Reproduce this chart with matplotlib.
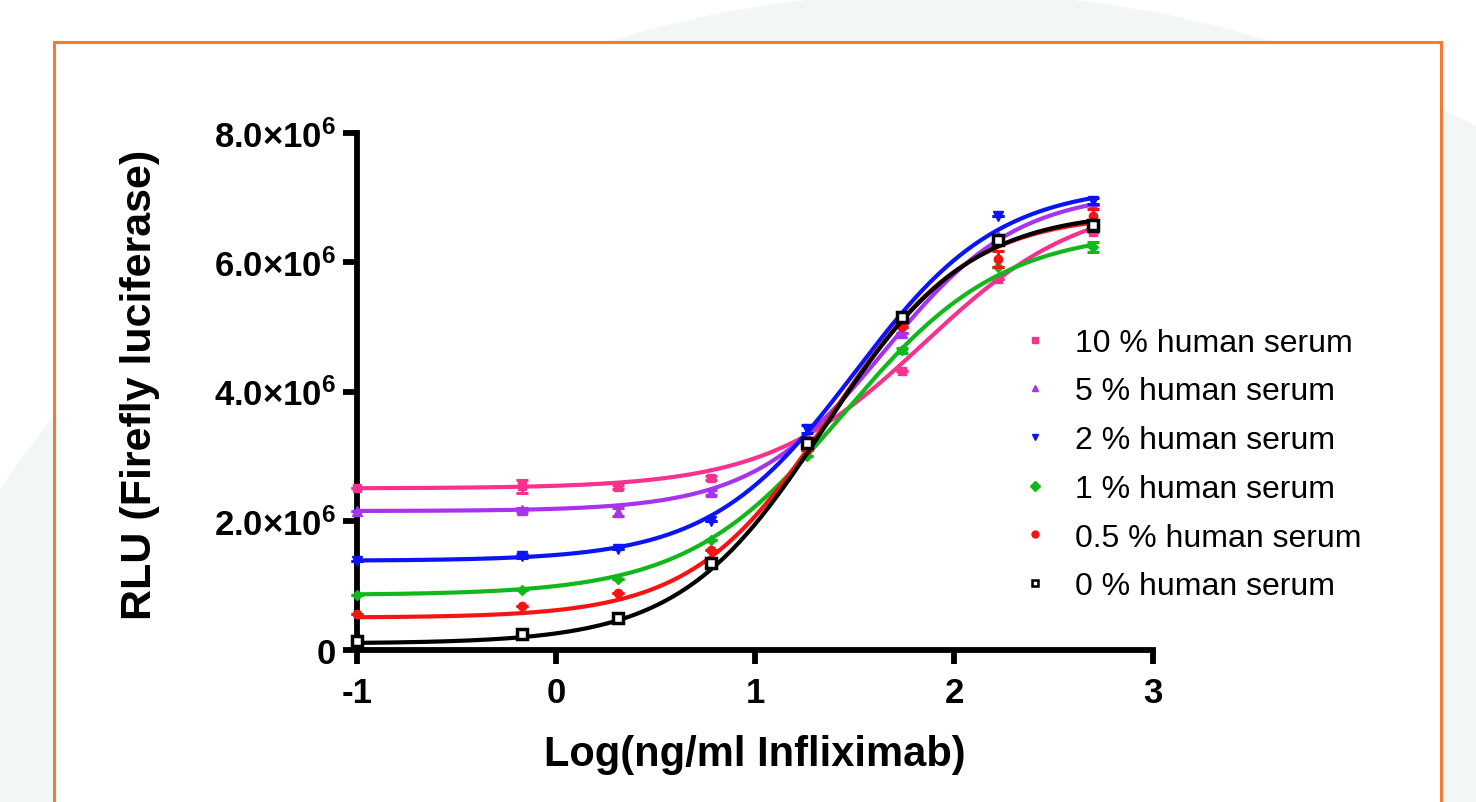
import numpy as np
import matplotlib
matplotlib.use("Agg")
import matplotlib.pyplot as plt
from matplotlib.patches import Circle, Rectangle

plt.rcParams['font.family'] = ['Liberation Sans', 'DejaVu Sans']
plt.rcParams['mathtext.fontset'] = 'custom'
plt.rcParams['mathtext.rm'] = 'Liberation Sans'
plt.rcParams['mathtext.bf'] = 'Liberation Sans:bold'

# ---------------- data ----------------
x_log = [-1.0, -0.17, 0.31, 0.78, 1.26, 1.74, 2.22, 2.70]
labels = ["10 % human serum", "5 % human serum", "2 % human serum",
          "1 % human serum", "0.5 % human serum", "0 % human serum"]
# RLU values (x 1e6)
y_10 = [2.50, 2.53, 2.52, 2.66, 3.25, 4.32, 5.74, 6.47]
y_5 = [2.15, 2.17, 2.13, 2.44, 3.22, 4.90, 6.40, 6.88]
y_2 = [1.38, 1.45, 1.56, 2.00, 3.42, 5.10, 6.72, 6.95]
y_1 = [0.85, 0.93, 1.10, 1.70, 3.00, 4.64, 5.92, 6.24]
y_05 = [0.55, 0.68, 0.88, 1.55, 3.10, 5.00, 6.05, 6.72]
y_0 = [0.14, 0.25, 0.50, 1.35, 3.20, 5.15, 6.35, 6.57]
# error bars (x 1e6)
e_10 = [0, 0.10, 0.03, 0.03, 0, 0, 0, 0]
e_5 = [0, 0.03, 0.06, 0.04, 0, 0, 0, 0]
e_2 = [0, 0.03, 0, 0, 0.06, 0, 0, 0.05]
e_1 = [0, 0, 0, 0, 0, 0.04, 0, 0.08]
e_05 = [0, 0, 0, 0, 0, 0, 0.13, 0.10]
e_0 = [0.03, 0, 0, 0, 0, 0, 0, 0.08]
# 4-parameter logistic fit parameters (x 1e6 for bottom/top)
fit_bottom = [2.50, 2.15, 1.38, 0.85, 0.50, 0.10]
fit_top = [7.00, 7.10, 7.20, 6.50, 6.75, 6.80]
fit_logec50 = [1.85, 1.65, 1.50, 1.45, 1.38, 1.35]
fit_hill = [1.10, 1.30, 1.20, 1.10, 1.25, 1.20]

series_y = [y_10, y_5, y_2, y_1, y_05, y_0]
series_e = [e_10, e_5, e_2, e_1, e_05, e_0]
colors = ["#f5338f", "#a733ee", "#0a14f5", "#11b81b", "#f51414", "#000000"]
markers = ["s", "^", "v", "D", "o", "s"]
msizes = [6, 7, 7, 5.5, 6, 7.5]

W, H = 1476, 803
fig = plt.figure(figsize=(W / 100, H / 100), dpi=100)
fig.patch.set_facecolor("white")

def px(x, y):
    return (x / 100.0, (H - y) / 100.0)

# background decoration
fig.add_artist(Circle(px(940, 1130), 1137 / 100.0, transform=fig.dpi_scale_trans,
                      facecolor="#f2f6f5", edgecolor="none", zorder=0))
fig.add_artist(Rectangle(px(54, 850), (1441 - 54) / 100.0, (850 - 43) / 100.0,
                         transform=fig.dpi_scale_trans, facecolor="white",
                         edgecolor="#f47b2f", linewidth=2.2, zorder=1))

ax = fig.add_axes([357 / W, 1 - 651 / H, (1153 - 357) / W, (651 - 134) / H])
ax.set_facecolor("none")
ax.set_zorder(2)

xs = np.linspace(-1.0, 2.70, 300)
for i in range(6):
    b, t, ec, h = fit_bottom[i], fit_top[i], fit_logec50[i], fit_hill[i]
    curve = b + (t - b) / (1 + 10 ** ((ec - xs) * h))
    ax.plot(xs, np.array(curve) * 1e6, color=colors[i], lw=3.0, zorder=3 + i,
            clip_on=False, solid_capstyle="round")
    yv = np.array(series_y[i]) * 1e6
    ev = np.array(series_e[i]) * 1e6
    ax.errorbar(x_log, yv, yerr=ev, fmt="none", ecolor=colors[i], elinewidth=2.2,
                capsize=4, capthick=2.2, zorder=3 + i, clip_on=False)
    face = "white" if i == 5 else colors[i]
    ax.plot(x_log, yv, linestyle="none", marker=markers[i], ms=msizes[i],
            color=colors[i], mfc=face, mec=colors[i], mew=2.5 if i == 5 else 1,
            zorder=3 + i, clip_on=False)

ax.set_xlim(-1, 3)
ax.set_ylim(0, 8e6)
for s in ["top", "right"]:
    ax.spines[s].set_visible(False)
for s in ["left", "bottom"]:
    ax.spines[s].set_linewidth(4.2)
    ax.spines[s].set_capstyle("projecting")
ax.set_xticks([-1, 0, 1, 2, 3])
ax.set_xticklabels(["-1", "0", "1", "2", "3"])
yt = [0, 2e6, 4e6, 6e6, 8e6]
ax.set_yticks(yt)
ax.set_yticklabels(["0", r"$\mathbf{2.0{\times}10^{6}}$", r"$\mathbf{4.0{\times}10^{6}}$",
                    r"$\mathbf{6.0{\times}10^{6}}$", r"$\mathbf{8.0{\times}10^{6}}$"])
ax.tick_params(axis="both", direction="out", length=10, width=4.2, labelsize=25)
ax.tick_params(axis="x", pad=9)
ax.tick_params(axis="y", pad=5)
for lab in ax.get_xticklabels() + ax.get_yticklabels():
    lab.set_fontweight("bold")

ax.set_xlabel("Log(ng/ml Infliximab)", fontsize=30, fontweight="bold")
ax.set_ylabel("RLU (Firefly luciferase)", fontsize=31, fontweight="bold")
ax.xaxis.set_label_coords(0.5, -0.162)
ax.yaxis.set_label_coords(-0.248, 0.514)

# legend (markers only)
handles = []
for i in range(6):
    face = "white" if i == 5 else colors[i]
    hdl, = ax.plot([], [], linestyle="none", marker=markers[i], ms=5,
                   color=colors[i], mfc=face, mec=colors[i], mew=1.8 if i == 5 else 1)
    handles.append(hdl)
fs_leg = 23
leg = fig.legend(handles, labels, loc="upper left",
                 bbox_to_anchor=(1006 / W, 1 - 316 / H), frameon=False,
                 fontsize=fs_leg, labelspacing=0.585, handletextpad=0.76,
                 handlelength=1.0, borderaxespad=0, borderpad=0.4)

fig.savefig("out.png", dpi=100, facecolor=fig.get_facecolor())
